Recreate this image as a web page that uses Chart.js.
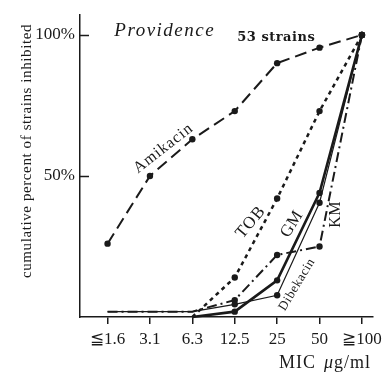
<!DOCTYPE html>
<html>
<head>
<meta charset="utf-8">
<script src="https://cdn.jsdelivr.net/npm/chart.js@4"></script>
<style>
html,body{margin:0;padding:0;background:#fff;}
canvas{display:block;}
</style>
</head>
<body>
<canvas id="c" width="387" height="374"></canvas>
<script>
// ---- data ----
const categories = ['≦1.6', '3.1', '6.3', '12.5', '25', '50', '≧100'];
const amikacin   = [26, 50, 63, 73, 90, 95.5, 100];
const tob        = [null, null, 0, 14, 42, 73, 100];
const gm         = [null, null, 0, 1.9, 13, 44, 100];
const dibekacin  = [1.9, 1.9, 1.9, 4.5, 7.7, 40.5, 100];
const km         = [1.9, 1.9, 1.9, 6, 22, 25, 100];
const yTickValues = [50, 100];
const yTickLabels = ['50%', '100%'];

const toPts = arr => arr.map((v, i) => ({x: i, y: v}));
const INK = '#1a1a1a';
const SERIF = "'Liberation Serif', 'DejaVu Serif', serif";
Chart.defaults.font.family = SERIF;
Chart.defaults.color = INK;

function radii(arr, from) { return arr.map((v, i) => (v === null || i < from) ? 0 : 3.2); }

const datasets = [
  {label: 'Amikacin', data: toPts(amikacin), borderDash: [12, 6], borderWidth: 2, pointRadius: radii(amikacin, 0)},
  {label: 'TOB', data: toPts(tob), borderDash: [4, 4], borderWidth: 2.5, pointRadius: radii(tob, 3)},
  {label: 'GM', data: toPts(gm), borderWidth: 2.6, pointRadius: radii(gm, 3)},
  {label: 'Dibekacin', data: toPts(dibekacin), borderWidth: 1.2, pointRadius: radii(dibekacin, 3)},
  {label: 'KM', data: toPts(km), borderDash: [10, 4, 2, 4], borderWidth: 2, pointRadius: radii(km, 3)}
].map(d => Object.assign({
  borderColor: INK, backgroundColor: INK, pointBackgroundColor: INK, pointBorderColor: INK,
  pointBorderWidth: 0, tension: 0, spanGaps: false, clip: false
}, d));

// text annotations anchored in data coordinates
const seriesLabels = [
  {text: 'Amikacin', x: 1.32, y: 59.8, angle: -38, size: 16, spacing: 1},
  {text: 'TOB', x: 3.38, y: 33.6, angle: -50, size: 17, spacing: 1},
  {text: 'GM', x: 4.35, y: 32.9, angle: -58, size: 17, spacing: 0.5},
  {text: 'Dibekacin', x: 4.47, y: 11.5, angle: -59, size: 13, spacing: 0.6},
  {text: 'KM', x: 5.39, y: 36.4, angle: -90, size: 16, spacing: 0.5}
];

const annot = {
  id: 'annot',
  afterDraw(chart) {
    const ctx = chart.ctx, xs = chart.scales.x, ys = chart.scales.y;
    ctx.save();
    ctx.fillStyle = INK; ctx.strokeStyle = INK;
    // inward y ticks
    ctx.lineWidth = 1.5;
    yTickValues.forEach(v => {
      const py = Math.round(ys.getPixelForValue(v)) + 0.5;
      ctx.beginPath(); ctx.moveTo(xs.left, py); ctx.lineTo(xs.left + 9, py); ctx.stroke();
    });
    // y axis title
    ctx.save();
    ctx.translate(27, 151);
    ctx.rotate(-Math.PI / 2);
    ctx.font = '15px ' + SERIF;
    ctx.letterSpacing = '0.6px';
    ctx.textAlign = 'center'; ctx.textBaseline = 'middle';
    ctx.fillText('cumulative percent of strains inhibited', 0, 0);
    ctx.restore();
    // x axis title
    ctx.textBaseline = 'alphabetic'; ctx.textAlign = 'left';
    ctx.letterSpacing = '1px';
    ctx.font = '18px ' + SERIF;
    let tx = 279;
    ctx.fillText('MIC', tx, 368);
    tx += ctx.measureText('MIC').width + 8;
    ctx.font = 'italic 18px ' + SERIF;
    ctx.fillText('μ', tx, 368);
    tx += ctx.measureText('μ').width;
    ctx.font = '18px ' + SERIF;
    ctx.fillText('g/ml', tx, 368);
    // header texts
    ctx.font = 'italic 19px ' + SERIF;
    ctx.letterSpacing = '1.5px';
    ctx.fillText('Providence', xs.getPixelForValue(0.16), ys.getPixelForValue(99.6));
    ctx.font = 'bold 13px ' + "'DejaVu Serif', serif";
    ctx.letterSpacing = '0.5px';
    ctx.fillText('53 strains', xs.getPixelForValue(3.06), ys.getPixelForValue(98));
    // series labels
    seriesLabels.forEach(l => {
      ctx.save();
      ctx.translate(xs.getPixelForValue(l.x), ys.getPixelForValue(l.y));
      ctx.rotate(l.angle * Math.PI / 180);
      ctx.font = l.size + 'px ' + SERIF;
      ctx.letterSpacing = l.spacing + 'px';
      ctx.textAlign = 'center'; ctx.textBaseline = 'middle';
      ctx.fillText(l.text, 0, 0);
      ctx.restore();
    });
    ctx.restore();
  }
};

new Chart(document.getElementById('c'), {
  type: 'line',
  data: {datasets},
  options: {
    responsive: false,
    devicePixelRatio: 1,
    animation: false,
    events: [],
    layout: {padding: {left: 0, right: 9, top: 10, bottom: 0}},
    plugins: {legend: {display: false}, tooltip: {enabled: false}, title: {display: false}},
    scales: {
      x: {
        type: 'linear', min: -0.65, max: 6.25,
        afterBuildTicks: s => { s.ticks = categories.map((c, i) => ({value: i})); },
        afterFit: s => { s.height = 57; },
        ticks: {callback: v => categories[v], font: {size: 17}, color: INK, padding: 5, maxRotation: 0, autoSkip: false},
        grid: {drawOnChartArea: false, drawTicks: true, tickLength: 7, color: INK, lineWidth: 1.5},
        border: {color: INK, width: 1.5}
      },
      y: {
        min: 0, max: 107,
        afterBuildTicks: s => { s.ticks = yTickValues.map(v => ({value: v})); },
        afterFit: s => { s.width = 80; },
        ticks: {callback: v => yTickLabels[yTickValues.indexOf(v)], font: {size: 17}, color: INK, padding: 5},
        grid: {display: false, drawTicks: false},
        border: {color: INK, width: 1.5}
      }
    }
  },
  plugins: [annot]
});
</script>
</body>
</html>
